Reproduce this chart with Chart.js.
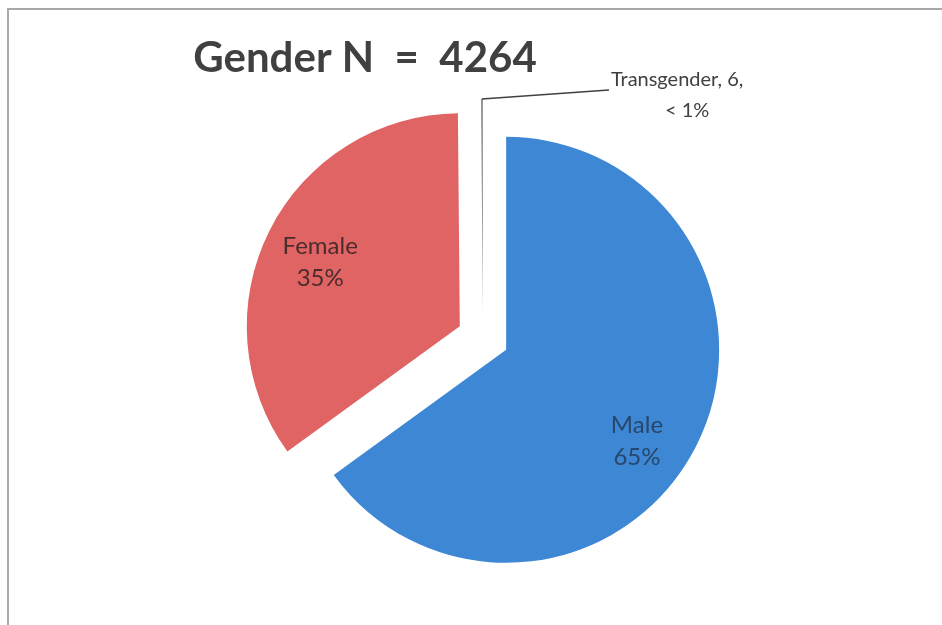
<!DOCTYPE html>
<html>
<head>
<meta charset="utf-8">
<script src="https://cdn.jsdelivr.net/npm/chart.js@4/dist/chart.umd.min.js"></script>
<style>
    html, body { margin: 0; padding: 0; background: #ffffff; }
    #wrap { position: relative; width: 942px; height: 625px; overflow: hidden; }
    #frame { position: absolute; left: 7px; top: 8px; right: -4px; bottom: -4px;
             border-top: 2px solid #a8a8a8; border-left: 2px solid #a8a8a8; }
    canvas { position: absolute; left: 0; top: 0; }
</style>
</head>
<body>
<div id="wrap">
    <div id="frame"></div>
    <canvas id="genderChart" width="942" height="625"></canvas>
</div>
<script>
// Gender breakdown, N = 4264
const genderLabels = ['Male', 'Female', 'Transgender'];
const genderCounts = [2772, 1486, 6];
const totalN = 4264;
const titleText = 'Gender N  =  4264';

const sliceColors = ['#3d87d5', '#e06464', '#8e8e8e'];
const labelColors = ['#27476c', '#4a2c2c', '#404040'];
const FONT = 'Lato, "Open Sans", sans-serif';
const EXPLODE = 26;                       // px each slice is pulled out
const labelAngleNudge = [0.14, -0.04, 0];  // radians, Excel-style best fit placement
const labelDist = [0.75, 0.72, 1];         // fraction of radius

// pull each slice out along its bisector
const explodePlugin = {
    id: 'explode',
    afterDatasetsUpdate(chart) {
        chart.getDatasetMeta(0).data.forEach(arc => {
            const mid = (arc.startAngle + arc.endAngle) / 2;
            arc.x += Math.cos(mid) * EXPLODE;
            arc.y += Math.sin(mid) * EXPLODE;
        });
    }
};

// title + data labels
const labelPlugin = {
    id: 'sliceLabels',
    afterDatasetsDraw(chart) {
        const ctx = chart.ctx;
        const arcs = chart.getDatasetMeta(0).data;
        ctx.save();

        ctx.font = 'bold 42px ' + FONT;
        ctx.fillStyle = '#404040';
        ctx.textAlign = 'center';
        ctx.textBaseline = 'middle';
        ctx.fillText(titleText, 365, 58);

        arcs.forEach((arc, i) => {
            const mid = (arc.startAngle + arc.endAngle) / 2 + labelAngleNudge[i];
            const pct = genderCounts[i] / totalN * 100;
            if (pct >= 1) {
                const d = arc.outerRadius * labelDist[i];
                const x = arc.x + Math.cos(mid) * d;
                const y = arc.y + Math.sin(mid) * d;
                ctx.font = '24px ' + FONT;
                ctx.fillStyle = labelColors[i];
                ctx.textAlign = 'center';
                ctx.fillText(genderLabels[i], x, y - 16);
                ctx.fillText(Math.round(pct) + '%', x, y + 16);
            } else {
                // tiny slice: label outside with a leader line
                const tipX = arc.x + Math.cos(mid) * arc.outerRadius;
                const tipY = arc.y + Math.sin(mid) * arc.outerRadius;
                const endX = tipX + 127, endY = tipY - 9;
                ctx.strokeStyle = '#404040';
                ctx.lineWidth = 1.5;
                ctx.beginPath();
                ctx.moveTo(tipX, tipY);
                ctx.lineTo(endX, endY);
                ctx.stroke();

                ctx.font = '20px ' + FONT;
                ctx.fillStyle = labelColors[i];
                ctx.textAlign = 'left';
                const line1 = genderLabels[i] + ', ' + genderCounts[i] + ',';
                ctx.fillText(line1, endX + 2, endY - 10);
                const w1 = ctx.measureText(line1).width;
                ctx.textAlign = 'center';
                ctx.fillText('< 1%', endX + 2 + w1 / 2 + 10, endY + 21);
            }
        });
        ctx.restore();
    }
};

new Chart(document.getElementById('genderChart'), {
    type: 'pie',
    data: {
        labels: genderLabels,
        datasets: [{
            data: genderCounts,
            backgroundColor: sliceColors,
            borderWidth: 0
        }]
    },
    options: {
        responsive: false,
        animation: false,
        events: [],
        radius: 213,
        layout: { padding: { left: 24, right: 0, top: 51, bottom: 0 } },
        plugins: {
            legend: { display: false },
            tooltip: { enabled: false },
            title: { display: false }
        }
    },
    plugins: [explodePlugin, labelPlugin]
});
</script>
</body>
</html>
